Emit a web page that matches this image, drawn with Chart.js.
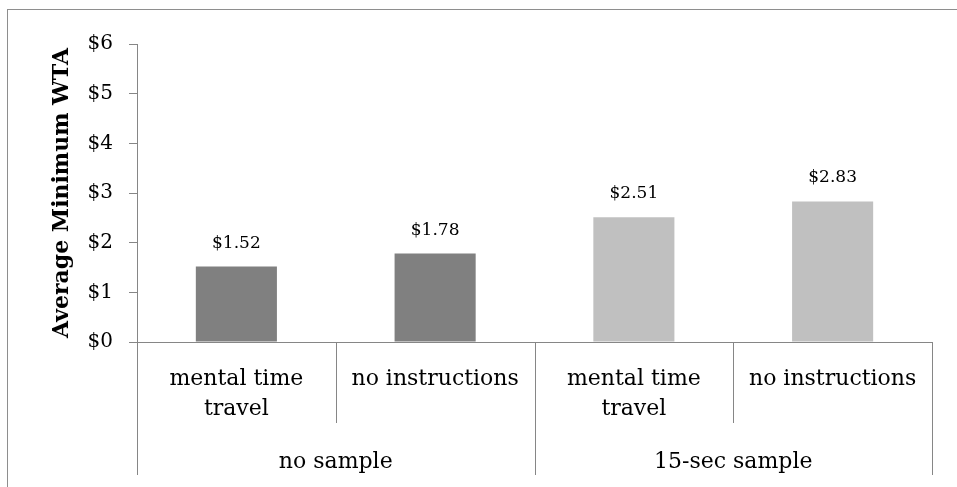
<!DOCTYPE html>
<html>
<head>
<meta charset="utf-8">
<script src="https://cdn.jsdelivr.net/npm/chart.js@4/dist/chart.umd.min.js"></script>
<style>
  html, body { margin: 0; padding: 0; background: #fff; overflow: hidden; }
  #wrap { position: relative; width: 957px; height: 487px; }
</style>
</head>
<body>
<div id="wrap"><canvas id="c" width="957" height="487"></canvas></div>
<script>
// Inner category labels (one per bar), outer group labels and how many bars each group spans
const conditions = [["mental time", "travel"], "no instructions", ["mental time", "travel"], "no instructions"];
const groups = ["no sample", "15-sec sample"];
const groupSizes = [2, 2];

// Average minimum willingness-to-accept, in dollars
const wta = [1.52, 1.78, 2.51, 2.83];
const barColors = ["#808080", "#808080", "#c0c0c0", "#c0c0c0"];

// Value axis range
const yMin = 0;
const yMax = 6;
const yStep = 1;

const SERIF = "'DejaVu Serif', serif";
const AXIS_GRAY = "#868686";

const money = v => "$" + v;
const money2 = v => "$" + v.toFixed(2);

// Frame around the whole chart
const framePlugin = {
  id: "frame",
  beforeDraw(chart) {
    const ctx = chart.ctx;
    ctx.save();
    ctx.fillStyle = "#fff";
    ctx.fillRect(0, 0, chart.width, chart.height);
    ctx.strokeStyle = "#8e8e8e";
    ctx.lineWidth = 1;
    ctx.strokeRect(7.5, 9.5, chart.width + 20, chart.height + 20);
    ctx.restore();
  }
};

// Value labels above each bar
const valueLabels = {
  id: "valueLabels",
  afterDatasetsDraw(chart) {
    const ctx = chart.ctx;
    const meta = chart.getDatasetMeta(0);
    const data = chart.data.datasets[0].data;
    ctx.save();
    ctx.font = "17px " + SERIF;
    ctx.fillStyle = "#000";
    ctx.textAlign = "center";
    ctx.textBaseline = "alphabetic";
    meta.data.forEach((bar, i) => {
      ctx.fillText(money2(data[i]), bar.x, bar.y - 19);
    });
    ctx.restore();
  }
};

// Two-level category axis: separators between bars and between groups, plus group names
const groupAxis = {
  id: "groupAxis",
  afterDraw(chart) {
    const x = chart.scales.x;
    const ctx = chart.ctx;
    const area = chart.chartArea;
    const n = chart.data.labels.length;
    const edge = i => {
      if (i <= 0) return area.left;
      if (i >= n) return area.right;
      return (x.getPixelForValue(i - 1) + x.getPixelForValue(i)) / 2;
    };
    const top = area.bottom;
    const shortEnd = top + 81;
    const longEnd = top + 133;

    const groupEdges = [0];
    groupSizes.forEach(s => groupEdges.push(groupEdges[groupEdges.length - 1] + s));

    ctx.save();
    ctx.strokeStyle = AXIS_GRAY;
    ctx.lineWidth = 1;
    for (let i = 0; i <= n; i++) {
      const px = Math.round(edge(i)) + 0.5;
      const isGroupEdge = groupEdges.includes(i);
      ctx.beginPath();
      ctx.moveTo(px, top);
      ctx.lineTo(px, isGroupEdge ? longEnd : shortEnd);
      ctx.stroke();
    }

    ctx.font = "22px " + SERIF;
    ctx.fillStyle = "#000";
    ctx.textAlign = "center";
    ctx.textBaseline = "alphabetic";
    groups.forEach((g, k) => {
      const cx = (edge(groupEdges[k]) + edge(groupEdges[k + 1])) / 2;
      ctx.fillText(g, cx, top + 126);
    });
    ctx.restore();
  }
};

new Chart(document.getElementById("c"), {
  type: "bar",
  data: {
    labels: conditions,
    datasets: [{
      data: wta,
      backgroundColor: barColors,
      borderWidth: 0,
      categoryPercentage: 1,
      barPercentage: 0.408
    }]
  },
  options: {
    responsive: false,
    animation: false,
    events: [],
    layout: { padding: { left: 0, top: 44, right: 25, bottom: 0 } },
    plugins: {
      legend: { display: false },
      tooltip: { enabled: false }
    },
    scales: {
      x: {
        afterFit(scale) { scale.height = 145; },
        grid: { display: false, drawTicks: false },
        border: { display: true, color: AXIS_GRAY, width: 1 },
        ticks: {
          color: "#000",
          padding: 22,
          maxRotation: 0,
          autoSkip: false,
          font: { family: SERIF, size: 22, lineHeight: "30px" }
        }
      },
      y: {
        min: yMin,
        max: yMax,
        afterFit(scale) { scale.width = 137; },
        grid: { drawOnChartArea: false, drawTicks: true, tickLength: 8, color: AXIS_GRAY },
        border: { display: true, color: AXIS_GRAY, width: 1 },
        ticks: {
          stepSize: yStep,
          color: "#000",
          padding: 16,
          callback: money,
          font: { family: SERIF, size: 20 }
        },
        title: {
          display: true,
          text: "Average Minimum WTA",
          color: "#000",
          padding: { top: 49, bottom: 0 },
          font: { family: SERIF, size: 22, weight: "bold" }
        }
      }
    }
  },
  plugins: [framePlugin, valueLabels, groupAxis]
});
</script>
</body>
</html>
